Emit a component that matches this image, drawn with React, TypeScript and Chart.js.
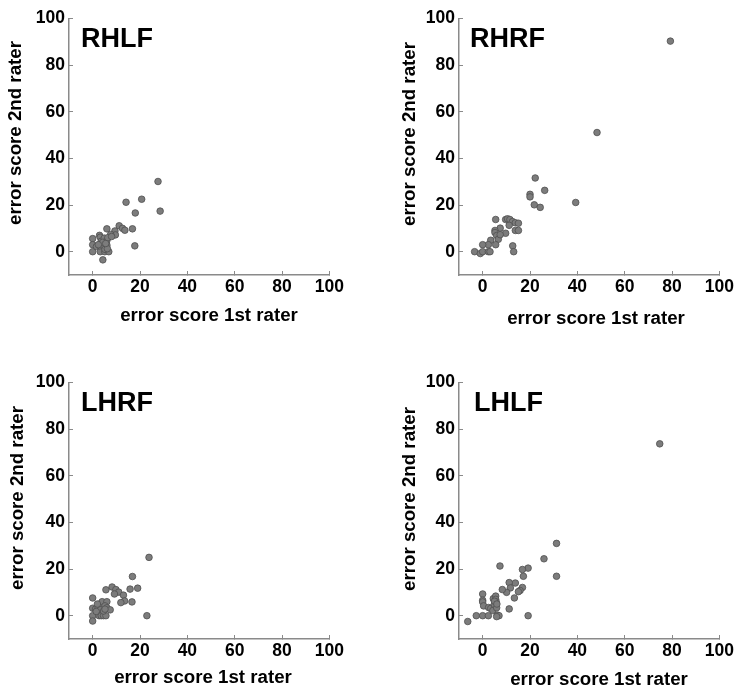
import React, { useEffect, useRef } from "react";
import { Chart, registerables } from "chart.js";

Chart.register(...registerables);

// ---------- data ----------
const PANEL_NAMES = ["RHLF", "RHRF", "LHRF", "LHLF"];
const AXIS_TICKS = [0, 20, 40, 60, 80, 100];
const AXIS_MIN = -10;
const AXIS_MAX = 100;
const X_TITLE = "error score 1st rater";
const Y_TITLE = "error score 2nd rater";

const RHLF_X = [27.6, 14.1, 20.7, 18.0, 28.5, 11.2, 12.6, 13.6, 16.8, 9.4, 9.6, 7.6, 6.0, 17.8, 0, 0, 0, 2.9, 3.2, 1.6, 3.2, 4.3, 5.1, 6.8, 3.6, 4.9, 6.0, 6.4, 3.0, 4.7, 6.0, 5.2, 6.2, 4.2, 2.4, 5.5, 8.0];
const RHLF_Y = [30.1, 21.2, 22.5, 16.6, 17.4, 11.1, 10.0, 9.2, 9.8, 8.9, 7.2, 7.4, 9.8, 2.5, 5.6, 3.0, 0, 7.0, 6.2, 2.2, 0, -3.5, 0, 0, 4.5, 5.8, 4.8, 6.0, 2.5, 2.5, 2.8, 1.0, 1.3, 4.0, 3.0, 3.5, 6.5];

const RHRF_X = [79.3, 48.3, 39.3, 22.2, 26.2, 20.0, 20.0, 21.8, 24.3, 5.5, 9.7, 10.5, 11.5, 12.6, 13.8, 15.1, 11.2, 13.8, 15.1, 9.7, 7.4, 5.2, 5.2, 5.9, 6.6, 7.4, 5.5, 3.4, 2.4, 0, -3.4, -1.0, 0, 2.4, 3.1, 12.7, 13.1];
const RHRF_Y = [90.3, 51.1, 21.1, 31.6, 26.3, 24.6, 23.5, 20.1, 19.0, 13.8, 13.8, 14.1, 13.8, 12.9, 12.4, 12.2, 11.3, 9.1, 9.1, 7.9, 10.1, 9.1, 8.2, 6.9, 5.3, 7.3, 3.0, 4.9, 3.0, 3.0, 0, -0.8, 0, 0, 0, 2.5, 0];

const LHRF_X = [23.8, 16.8, 19.0, 15.8, 16.6, 22.9, 8.2, 9.8, 11.0, 9.2, 13.0, 13.5, 11.9, 5.6, 0, 0, 0, 0, 1.2, 2.2, 3.0, 4.0, 6.0, 5.2, 6.0, 7.4, 3.2, 2.7, 3.6, 4.6, 5.6, 4.6, 2.0, 5.2, 1.5];
const LHRF_Y = [25.0, 16.8, 11.8, 11.4, 5.9, 0, 12.3, 11.2, 10.1, 9.3, 8.8, 6.3, 5.6, 11.1, 7.6, 3.2, 0, -2.3, 2.8, 3.0, 5.0, 6.0, 6.0, 4.2, 3.4, 2.5, 2.5, 0, 0, 0, 0, 2.0, 5.0, 2.8, 1.8];

const LHLF_X = [74.8, 31.2, 31.2, 25.9, 7.3, 19.2, 16.8, 17.2, 16.8, 15.8, 15.1, 13.8, 11.2, 11.7, 10.1, 8.3, 13.4, 11.2, 19.2, 0, 0, 0, 0.4, -2.7, -6.3, 0, 2.4, 2.5, 3.4, 4.3, 4.5, 5.5, 5.5, 5.7, 4.9, 5.9, 6.2, 6.9, 5.9, 5.0, 6.0];
const LHLF_Y = [73.7, 31.0, 16.9, 24.4, 21.3, 20.4, 19.8, 16.9, 12.1, 10.8, 10.3, 14.0, 14.2, 11.9, 10.0, 11.2, 7.6, 2.9, 0, 9.3, 6.6, 5.9, 4.2, 0, -2.5, 0, 0, 3.5, 3.1, 2.2, 7.3, 8.4, 7.0, 5.9, 4.8, 3.4, 0.3, 0, -0.4, 6.2, 5.0];

const PANEL_X = [RHLF_X, RHRF_X, LHRF_X, LHLF_X];
const PANEL_Y = [RHLF_Y, RHRF_Y, LHRF_Y, LHLF_Y];

// ---------- layout / style ----------
const FONT = '"Liberation Sans", Arial, Helvetica, sans-serif';
const CANVAS_W = 350;
const CANVAS_H = 333;
const PANEL_POS = [
  { left: 0, top: 0 },
  { left: 390, top: 0 },
  { left: 0, top: 364 },
  { left: 390, top: 364 },
];
const NAME_X = [81, 80, 81, 84];
const NAME_BASE = [47, 47, 47, 47];
const XT_X = [209, 206, 203, 209];
const XT_Y = [316, 319, 314, 316];
const YT_X = [16, 20, 18, 20];
const YT_Y = [133, 134, 134, 135];

const AXIS_COLOR = "#8a8a8a";

function textPlugin(idx: number) {
  return {
    id: "panelText" + idx,
    afterDraw(chart: any) {
      const ctx = chart.ctx as CanvasRenderingContext2D;
      ctx.save();
      ctx.fillStyle = "#000";
      // panel name
      ctx.font = `bold 27px ${FONT}`;
      ctx.textAlign = "left";
      ctx.textBaseline = "alphabetic";
      ctx.fillText(PANEL_NAMES[idx], NAME_X[idx], NAME_BASE[idx]);
      // x title
      ctx.font = `bold 18.7px ${FONT}`;
      ctx.textAlign = "center";
      ctx.textBaseline = "middle";
      ctx.fillText(X_TITLE, XT_X[idx], XT_Y[idx]);
      // y title
      ctx.translate(YT_X[idx], YT_Y[idx]);
      ctx.rotate(-Math.PI / 2);
      ctx.fillText(Y_TITLE, 0, 0);
      ctx.restore();
    },
  };
}

function axisCommon() {
  return {
    type: "linear" as const,
    min: AXIS_MIN,
    max: AXIS_MAX,
    afterBuildTicks: (s: any) => {
      s.ticks = AXIS_TICKS.map((v) => ({ value: v }));
    },
    grid: {
      drawOnChartArea: false,
      drawTicks: true,
      tickLength: -4,
      color: AXIS_COLOR,
      lineWidth: 1,
    },
    border: { display: true, color: AXIS_COLOR, width: 1.5 },
  };
}

function Panel({ idx }: { idx: number }) {
  const ref = useRef<HTMLCanvasElement | null>(null);
  useEffect(() => {
    if (!ref.current) return;
    const xs = PANEL_X[idx];
    const ys = PANEL_Y[idx];
    const chart = new Chart(ref.current, {
      type: "scatter",
      data: {
        datasets: [
          {
            data: xs.map((x, i) => ({ x, y: ys[i] })),
            backgroundColor: "#7c7c7c",
            borderColor: "#4f4f4f",
            borderWidth: 0.8,
            pointRadius: 3.3,
            pointHoverRadius: 3.3,
          },
        ],
      },
      options: {
        animation: false,
        responsive: false,
        maintainAspectRatio: false,
        layout: { padding: { left: 0, top: 14, right: 19, bottom: 0 } },
        plugins: { legend: { display: false }, tooltip: { enabled: false } },
        scales: {
          x: {
            ...axisCommon(),
            position: "bottom",
            afterFit: (s: any) => {
              s.height = 58;
            },
            ticks: {
              color: "#000",
              font: { family: FONT, size: 17.5, weight: "bold" },
              padding: 6,
              maxRotation: 0,
              autoSkip: false,
            },
          },
          y: {
            ...axisCommon(),
            position: "left",
            afterFit: (s: any) => {
              s.width = 69;
            },
            ticks: {
              color: "#000",
              font: { family: FONT, size: 17.5, weight: "bold" },
              padding: 8,
              autoSkip: false,
            },
          },
        },
      } as any,
      plugins: [textPlugin(idx)],
    });
    return () => chart.destroy();
  }, [idx]);
  const pos = PANEL_POS[idx];
  return (
    <canvas
      ref={ref}
      width={CANVAS_W}
      height={CANVAS_H}
      style={{ position: "absolute", left: pos.left, top: pos.top, width: CANVAS_W, height: CANVAS_H }}
    />
  );
}

export default function App() {
  return (
    <div
      style={{
        position: "absolute",
        left: 0,
        top: 0,
        width: 740,
        height: 697,
        background: "#fff",
        overflow: "hidden",
      }}
    >
      {[0, 1, 2, 3].map((i) => (
        <Panel key={i} idx={i} />
      ))}
    </div>
  );
}
